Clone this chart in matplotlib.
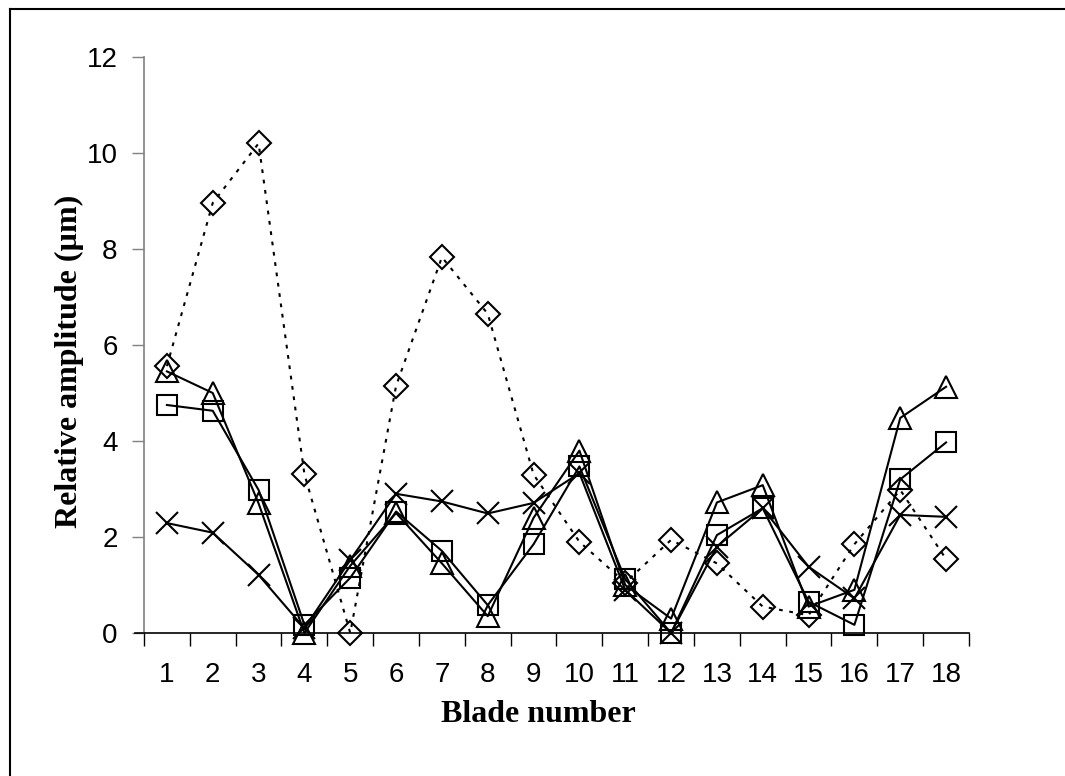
import numpy as np
import matplotlib.pyplot as plt
import matplotlib.lines as mlines

# %% Data

blades = np.arange(1, 19)
diamond = [5.56, 8.96, 10.2, 3.31, 0.0, 5.15, 7.83, 6.65, 3.3, 1.9,
           1.05, 1.94, 1.45, 0.55, 0.37, 1.85, 2.98, 1.54]
square = [4.75, 4.63, 2.98, 0.17, 1.15, 2.53, 1.71, 0.58, 1.85, 3.47,
          1.12, 0.0, 2.04, 2.6, 0.65, 0.17, 3.2, 3.97]
triangle = [5.45, 5.0, 2.7, 0.0, 1.4, 2.5, 1.45, 0.35, 2.4, 3.8,
            1.0, 0.3, 2.72, 3.08, 0.55, 0.9, 4.48, 5.13]
cross = [2.29, 2.09, 1.21, 0.1, 1.52, 2.9, 2.74, 2.49, 2.71, 3.33,
         0.9, 0.0, 1.8, 2.6, 1.38, 0.72, 2.46, 2.42]

# %% Plot

W, H = 1065, 776
fig = plt.figure(figsize=(W / 100, H / 100), dpi=100)
ax = fig.add_axes([144 / W, 1 - 633 / H, (969 - 144) / W, (633 - 57) / H])

lw = 1.5
ax.plot(blades, diamond, color='black', lw=lw, ls=(0, (1.8, 3.2)),
        marker='D', ms=12, mfc='none', mec='black', mew=lw, clip_on=False)
ax.plot(blades, square, color='black', lw=lw, ls='-',
        marker='s', ms=14, mfc='none', mec='black', mew=lw, clip_on=False)
ax.plot(blades, triangle, color='black', lw=lw, ls='-',
        marker='^', ms=16, mfc='none', mec='black', mew=lw, clip_on=False)
ax.plot(blades, cross, color='black', lw=lw, ls='-',
        marker='x', ms=16, mec='black', mew=lw, clip_on=False)

ax.set_xlim(0.5, 18.5)
ax.set_ylim(0, 12)

# category ticks between blades, labels centred on blades
ax.set_xticks(np.arange(0.5, 19, 1))
ax.set_xticklabels([])
ax.set_xticks(blades, minor=True)
ax.set_xticklabels([str(b) for b in blades], minor=True)
ax.tick_params(axis='x', which='major', direction='out', length=9, width=1, color='black')
ax.tick_params(axis='x', which='minor', length=0, pad=21, labelsize=20)

ax.set_yticks(np.arange(0, 13, 2))
ax.tick_params(axis='y', direction='out', length=9, width=1, color='#808080',
               labelsize=20, pad=10)

for lab in ax.get_xticklabels(minor=True) + ax.get_yticklabels():
    lab.set_fontfamily('Liberation Sans')

ax.spines['top'].set_visible(False)
ax.spines['right'].set_visible(False)
ax.spines['left'].set_color('#808080')
ax.spines['left'].set_linewidth(1.2)
ax.spines['bottom'].set_color('black')
ax.spines['bottom'].set_linewidth(1.2)
# y=0 tick drawn black to extend the baseline
ax.axhline(0, xmin=-0.011, xmax=0, color='black', lw=1.2, clip_on=False)

# axis titles placed like the reference
fig.text(538 / W, 1 - 715 / H, 'Blade number', fontsize=23, fontweight='bold',
         fontfamily='Liberation Serif', ha='center', va='center')
fig.text(69 / W, 1 - 361 / H, 'Relative amplitude (µm)', fontsize=23,
         fontweight='bold', fontfamily='Liberation Serif', rotation=90,
         ha='center', va='center')

# chart frame: only the top and left edges fall inside the picture
top = mlines.Line2D([10 / W, 1], [1 - 9 / H, 1 - 9 / H], transform=fig.transFigure,
                    color='black', lw=1.5)
left = mlines.Line2D([10 / W, 10 / W], [0, 1 - 9 / H], transform=fig.transFigure,
                     color='black', lw=1.5)
fig.lines.extend([top, left])

fig.savefig('out.png', dpi=100)
